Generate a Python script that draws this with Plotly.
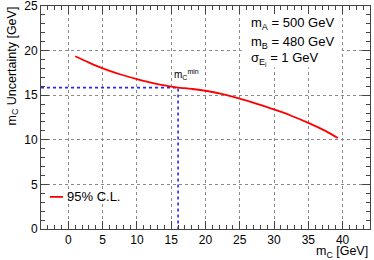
import plotly.graph_objects as go

# Data
mc_vals = [1, 3, 5, 7.5, 10, 12.5, 15, 16, 18, 20, 22.5, 25, 27.5, 30, 32.5, 35, 37.5, 39.3]
unc_vals = [19.36, 18.65, 18.0, 17.35, 16.8, 16.32, 15.97, 15.86, 15.7, 15.5, 15.12, 14.62, 14.03, 13.4, 12.7, 11.9, 11.0, 10.2]
mc_min = 16.0
unc_min = 15.85
x_range = [-4, 44]
y_range = [0, 25]
x_ticks = [0, 5, 10, 15, 20, 25, 30, 35, 40]
y_ticks = [0, 5, 10, 15, 20, 25]
info_lines = ["m<sub>A</sub> = 500 GeV", "m<sub>B</sub> = 480 GeV", "σ<sub>E<sub>i</sub></sub> = 1 GeV"]
legend_label = "95% C.L."

FONT = "Liberation Sans, Arial, Helvetica, sans-serif"
AX = "#444444"

fig = go.Figure()
# blue dotted guide lines
fig.add_trace(go.Scatter(x=[x_range[0], mc_min, mc_min], y=[unc_min, unc_min, y_range[0]],
                         mode="lines", line=dict(color="#2828e6", width=1.6, dash="dot"),
                         showlegend=False, hoverinfo="skip"))
fig.add_trace(go.Scatter(x=mc_vals, y=unc_vals, mode="lines", name=legend_label,
                         line=dict(color="#ff0000", width=1.8, shape="spline", smoothing=0.8),
                         showlegend=False))

axis_common = dict(
    automargin=False, ticklabeloverflow="allow",
    showline=True, linecolor=AX, linewidth=1, mirror="allticks",
    ticks="inside", ticklen=8, tickcolor=AX, tickwidth=1,
    showgrid=True, gridcolor="#8a8a8a", gridwidth=1, griddash="dot",
    zeroline=False, tickmode="array",
    tickfont=dict(family=FONT, size=12, color="black"),
    minor=dict(ticks="inside", ticklen=4, tickcolor=AX, dtick=1, tick0=0, showgrid=False),
)
fig.update_xaxes(range=x_range, tickvals=x_ticks, ticktext=[str(v) for v in x_ticks], **axis_common)
fig.update_yaxes(range=y_range, tickvals=y_ticks, ticktext=[str(v) for v in y_ticks], **axis_common)

# white box behind info text
fig.add_shape(type="rect", xref="x", yref="y", x0=25.3, x1=39.9, y0=18.1, y1=24.85,
              fillcolor="white", line=dict(width=0), layer="between")

ys = [23.0, 20.95, 19.1]
for t, yy in zip(info_lines, ys):
    fig.add_annotation(x=26.3, y=yy, xref="x", yref="y", text=t, showarrow=False,
                       xanchor="left", yanchor="middle",
                       font=dict(family=FONT, size=13, color="black"))

fig.add_annotation(x=mc_min + 1.2, y=17.3, xref="x", yref="y",
                   text="m<sub>C</sub><sup>min</sup>", showarrow=False,
                   xanchor="center", yanchor="middle",
                   font=dict(family=FONT, size=10, color="black"))

# legend (manual)
fig.add_shape(type="line", xref="x", yref="y", x0=-2.7, x1=-0.8, y0=3.6, y1=3.6,
              line=dict(color="#ff0000", width=1.8))
fig.add_annotation(x=-0.45, y=3.6, xref="x", yref="y", text=legend_label, showarrow=False,
                   xanchor="left", yanchor="middle",
                   font=dict(family=FONT, size=13, color="black"))

# axis titles
fig.add_annotation(x=1, y=0, xref="paper", yref="paper", yshift=-13, text="m<sub>C</sub> [GeV]",
                   showarrow=False, xanchor="right", yanchor="top",
                   font=dict(family=FONT, size=12.5, color="black"))
fig.add_annotation(x=0, y=1, xref="paper", yref="paper", xshift=-29, yshift=1,
                   text="m<sub>C</sub> Uncertainty [GeV]",
                   showarrow=False, textangle=-90, xanchor="center", yanchor="top",
                   font=dict(family=FONT, size=12.5, color="black"))

fig.update_layout(
    template="none",
    width=374, height=260,
    margin=dict(l=41, r=4, t=6, b=31),
    paper_bgcolor="white", plot_bgcolor="white",
    showlegend=False,
    font=dict(family=FONT, size=12, color="black"),
)

fig.write_html("out.html", config={"displayModeBar": False},
               post_script="document.body.style.margin='0';document.body.style.overflow='hidden';")
